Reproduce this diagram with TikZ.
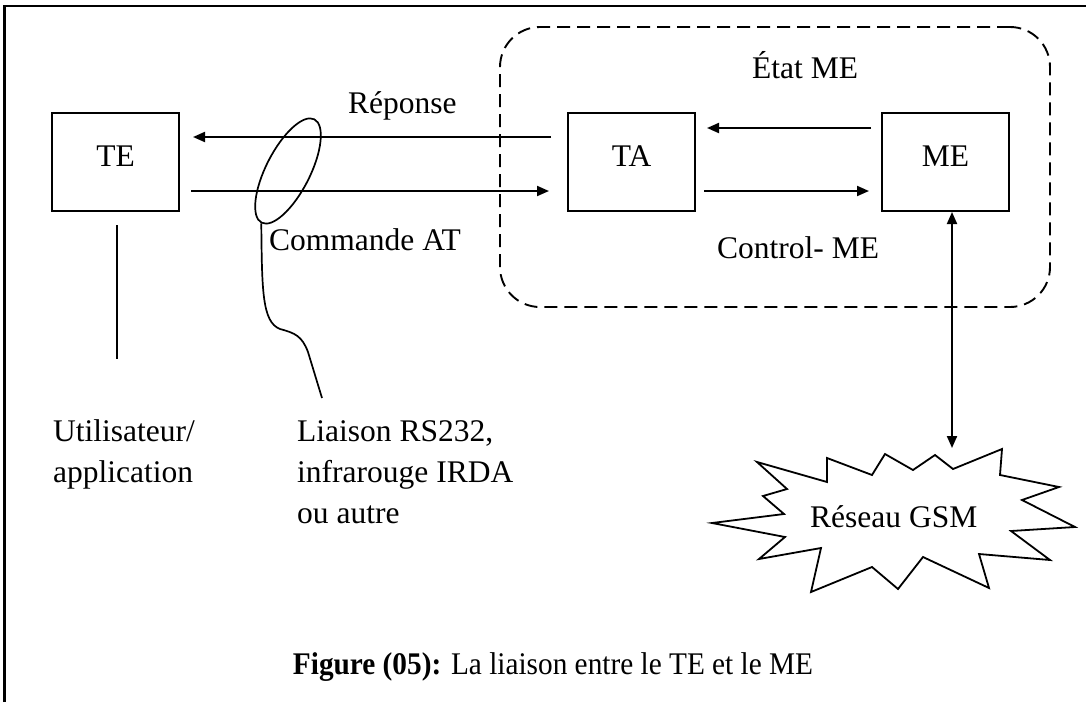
\documentclass[tikz,border=0pt]{standalone}
\usepackage{fontspec}
\usepackage{graphicx}
\setmainfont{Liberation Serif}
\usetikzlibrary{arrows.meta,calc,shapes.geometric}
\newcommand\lblfont{\fontsize{31.5pt}{40.8pt}\selectfont}
\begin{document}
\begin{tikzpicture}[x=1pt,y=-1pt,
  box/.style={draw,line width=2pt,minimum width=127pt,minimum height=98pt,inner sep=0pt,text height=22pt,text depth=14pt,font=\lblfont},
  tx/.style={font=\lblfont,inner sep=0pt,anchor=base west},
  ml/.style={font=\lblfont,inner sep=0pt,anchor=base west,align=left},
  arr/.style={line width=2pt,-{Triangle[length=12pt,width=10pt]}},
  darr/.style={line width=2pt,{Triangle[length=12pt,width=10pt]}-{Triangle[length=12pt,width=10pt]}},
  thin/.style={line width=1.7pt},
  grpbox/.style={draw,line width=1.9pt,dash pattern=on 13pt off 7pt,rounded corners=40pt,minimum width=550pt,minimum height=280pt,inner sep=0pt},
  frame/.style={line width=2.8pt}]
\useasboundingbox (0,0) rectangle (1086,702);
% frame (top and left)
\draw[frame] (4.5,702) -- (4.5,6) -- (1086,6);
% group box
\node[grpbox] (grp) at (775,167) {};
% boxes
\node[box] (TE) at (115.5,162) {TE};
\node[box] (TA) at (631.5,162) {TA};
\node[box] (ME) at (945.5,162) {ME};
% arrows TE <-> TA
\draw[arr] ($(TA.west)+(-16,-25)$) -- ($(TE.east)+(13,-25)$);
\draw[arr] ($(TE.east)+(11,29)$) -- ($(TA.west)+(-18,29)$);
% arrows TA <-> ME
\draw[arr] ($(ME.west)+(-10,-34)$) -- ($(TA.east)+(11,-34)$);
\draw[arr] ($(TA.east)+(8,29)$) -- ($(ME.west)+(-12,29)$);
% labels
\node[tx] (rep) at (348,113) {Réponse};
\node[tx] (etat) at (752,78) {État ME};
\node[tx] (cmd) at (269,250) {Commande AT};
\node[tx] (ctl) at (717,258) {Control- ME};
% link ellipse and its pointer
\node[draw,thin,ellipse,minimum width=116pt,minimum height=44pt,inner sep=0pt,rotate=63] (link) at (288,171) {};
\coordinate (lend) at (322,398);
\draw[thin] (link.west) .. controls (262,290) and (262,322) .. (280,329)
  .. controls (295,333) and (302,336) .. (308,352) -- (lend);
% user line
\coordinate (uend) at (116.7,359);
\draw[thin] ($(TE.south)+(1.2,13)$) -- (uend);
\node[ml] (user) at (53,482) {Utilisateur/\\application};
\node[ml] (liais) at (297,523) {Liaison RS232,\\infrarouge IRDA\\ou autre};
% GSM network
\draw[line width=1.8pt] (757,462) -- (787,489) -- (763,496) -- (784,514) -- (712,523)
  -- (785,537) -- (759,559) -- (821,548) -- (811,592) -- (872,567) -- (898,589)
  -- (923,557) -- (989,588) -- (979,554) -- (1050,560) -- (1011,531) -- (1075,527)
  -- (1022,500) -- (1059,487) -- (1000,475) -- (1002,449) -- (953,469) -- (935,455)
  -- (913,470) -- (885,454) -- (872,475) -- (827,458) -- (827,482) -- cycle;
\node[tx] (GSM) at (810,527) {Réseau GSM};
\coordinate (gsmtop) at (952,448);
\draw[darr] ($(ME.south)+(6.5,0)$) -- (gsmtop);
% caption
\node[font=\lblfont,inner sep=0pt,anchor=base] (cap) at (553,674) {\scalebox{0.93}[1]{\textbf{Figure (05):} La liaison entre le TE et le ME}};
\end{tikzpicture}
\end{document}
